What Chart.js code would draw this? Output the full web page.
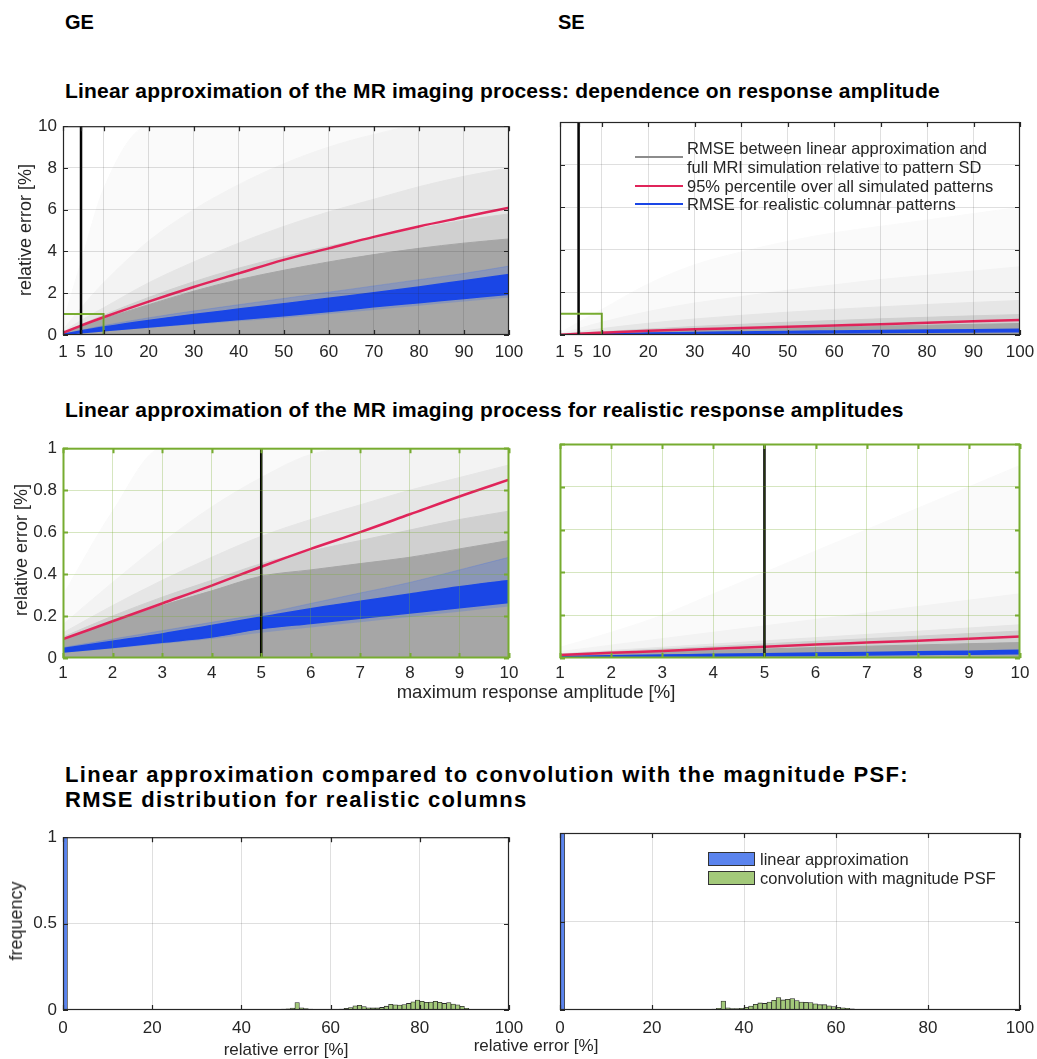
<!DOCTYPE html>
<html>
<head>
<meta charset="utf-8">
<script src="https://cdn.jsdelivr.net/npm/chart.js@4.4.1/dist/chart.umd.min.js"></script>
<style>
  body { margin: 0; background: #fff; }
  #page { position: relative; width: 1037px; height: 1059px; overflow: hidden;
          font-family: 'Liberation Sans', Arial, sans-serif; color: #262626; }
  canvas { position: absolute; }
  .t { position: absolute; white-space: nowrap; line-height: 1; z-index: 5; }
  .h { font-weight: bold; color: #000; }
  .c { transform: translate(-50%, -50%); }
  .r { transform: translate(-50%, -50%) rotate(-90deg); }
  .lg { position: absolute; z-index: 5; }
</style>
</head>
<body>
<div id="page">
  <canvas id="geTop"></canvas>
  <canvas id="seTop"></canvas>
  <canvas id="geMid"></canvas>
  <canvas id="seMid"></canvas>
  <canvas id="geHist"></canvas>
  <canvas id="seHist"></canvas>

  <div class="t h" style="left:65px;top:12px;font-size:20px">GE</div>
  <div class="t h" style="left:558px;top:12px;font-size:20px">SE</div>
  <div class="t h" style="left:65px;top:80px;font-size:21px;letter-spacing:0.2px">Linear approximation of the MR imaging process: dependence on response amplitude</div>
  <div class="t h" style="left:65px;top:399px;font-size:21px;letter-spacing:0.2px">Linear approximation of the MR imaging process for realistic response amplitudes</div>
  <div class="t h" style="left:65px;top:764px;font-size:22px;letter-spacing:1.3px">Linear approximation compared to convolution with the magnitude PSF:</div>
  <div class="t h" style="left:65px;top:789px;font-size:22px;letter-spacing:1.3px">RMSE distribution for realistic columns</div>

  <div class="t r" style="left:25px;top:230px;font-size:18px">relative error [%]</div>
  <div class="t r" style="left:21px;top:550px;font-size:18px">relative error [%]</div>
  <div class="t r" style="left:16px;top:921px;font-size:18px">frequency</div>
  <div class="t c" style="left:536px;top:692px;font-size:18.5px">maximum response amplitude [%]</div>
  <div class="t c" style="left:286px;top:1049px;font-size:17px">relative error [%]</div>
  <div class="t c" style="left:536px;top:1045px;font-size:17px">relative error [%]</div>

  <!-- legend, SE top panel -->
  <div class="lg" style="left:635px;top:156px;width:48px;height:2px;background:#8c8c8c"></div>
  <div class="t" style="left:687px;top:140px;font-size:16.5px">RMSE between linear approximation and</div>
  <div class="t" style="left:687px;top:159px;font-size:16.5px">full MRI simulation relative to pattern SD</div>
  <div class="lg" style="left:635px;top:185px;width:48px;height:2px;background:#e0245a"></div>
  <div class="t" style="left:687px;top:178px;font-size:16.5px">95% percentile over all simulated patterns</div>
  <div class="lg" style="left:635px;top:203px;width:48px;height:2px;background:#1a46e6"></div>
  <div class="t" style="left:687px;top:196px;font-size:16.5px">RMSE for realistic columnar patterns</div>

  <!-- legend, SE histogram -->
  <div class="lg" style="left:708px;top:852px;width:45px;height:12px;background:#5b84ee;border:1px solid #333"></div>
  <div class="t" style="left:760px;top:851px;font-size:16.5px">linear approximation</div>
  <div class="lg" style="left:708px;top:871px;width:45px;height:12px;background:#a3c97a;border:1px solid #333"></div>
  <div class="t" style="left:760px;top:870px;font-size:16.5px">convolution with magnitude PSF</div>
</div>

<script>
// ---- data ----
const TOP_X = [1, 5, 10, 20, 30, 40, 50, 60, 70, 80, 90, 100];
const TOP_X_TICKS = [1, 5, 10, 20, 30, 40, 50, 60, 70, 80, 90, 100];
const TOP_Y_TICKS = [0, 2, 4, 6, 8, 10];

const geTopFaint = [0.6, 3.5, 7, 10, 10, 10, 10, 10, 10, 10, 10, 10];
const geTopLight = [0.25, 1.3, 2.5, 4.5, 6, 7.2, 8.2, 9, 9.6, 10, 10, 10];
const geTopMid = [0.14, 0.7, 1.3, 2.5, 3.5, 4.4, 5.2, 5.9, 6.5, 7.1, 7.6, 8.0];
const geTopDark = [0.1, 0.5, 0.95, 1.8, 2.55, 3.2, 3.75, 4.25, 4.7, 5.1, 5.5, 5.8];
const geTopDense = [0.08, 0.42, 0.78, 1.45, 2.1, 2.65, 3.1, 3.5, 3.85, 4.15, 4.4, 4.6];
const geTopBlueOuterLo = [0.02, 0.09, 0.17, 0.33, 0.5, 0.66, 0.82, 1.0, 1.2, 1.4, 1.6, 1.8];
const geTopBlueOuterHi = [0.05, 0.23, 0.45, 0.82, 1.15, 1.45, 1.75, 2.05, 2.35, 2.65, 2.95, 3.3];
const geTopBlueLo = [0.025, 0.11, 0.2, 0.38, 0.56, 0.74, 0.92, 1.12, 1.35, 1.55, 1.75, 1.95];
const geTopBlueHi = [0.04, 0.19, 0.38, 0.7, 0.98, 1.24, 1.5, 1.76, 2.02, 2.3, 2.6, 2.9];
const geTopRed = [0.1, 0.45, 0.85, 1.6, 2.3, 2.95, 3.6, 4.15, 4.7, 5.2, 5.65, 6.1];

const seTopFaint = [0.1, 0.6, 1.2, 2.4, 3.3, 3.9, 4.4, 4.8, 5.1, 5.4, 5.7, 6.0];
const seTopLight = [0.05, 0.3, 0.6, 1.1, 1.5, 1.8, 2.1, 2.35, 2.6, 2.8, 3.0, 3.2];
const seTopMid = [0.03, 0.15, 0.3, 0.55, 0.75, 0.92, 1.07, 1.2, 1.32, 1.43, 1.53, 1.62];
const seTopDark = [0.02, 0.08, 0.15, 0.28, 0.4, 0.5, 0.6, 0.68, 0.76, 0.83, 0.9, 0.96];
const seTopDense = [0.01, 0.05, 0.09, 0.16, 0.22, 0.28, 0.33, 0.38, 0.42, 0.46, 0.5, 0.54];
const seTopBlueLo = [0.002, 0.01, 0.02, 0.04, 0.06, 0.075, 0.09, 0.105, 0.12, 0.13, 0.14, 0.15];
const seTopBlueHi = [0.006, 0.03, 0.055, 0.09, 0.12, 0.145, 0.17, 0.19, 0.21, 0.23, 0.25, 0.27];
const seTopRed = [0.01, 0.06, 0.11, 0.2, 0.27, 0.33, 0.39, 0.45, 0.51, 0.58, 0.64, 0.7];

const MID_X = [1, 2, 3, 4, 5, 6, 7, 8, 9, 10];
const MID_X_TICKS = [1, 2, 3, 4, 5, 6, 7, 8, 9, 10];
const MID_Y_TICKS = [0, 0.2, 0.4, 0.6, 0.8, 1];

const geMidFaint = [0.3, 0.7, 1, 1, 1, 1, 1, 1, 1, 1];
const geMidLight = [0.16, 0.36, 0.55, 0.72, 0.86, 0.97, 1, 1, 1, 1];
const geMidMid = [0.12, 0.25, 0.37, 0.48, 0.58, 0.66, 0.73, 0.8, 0.86, 0.92];
const geMidDark = [0.1, 0.2, 0.29, 0.37, 0.45, 0.51, 0.56, 0.61, 0.66, 0.7];
const geMidDense = [0.09, 0.17, 0.25, 0.32, 0.39, 0.42, 0.45, 0.48, 0.52, 0.56];
const geMidBlueOuterLo = [0.025, 0.045, 0.068, 0.09, 0.12, 0.145, 0.17, 0.195, 0.22, 0.245];
const geMidBlueOuterHi = [0.05, 0.09, 0.13, 0.17, 0.21, 0.26, 0.31, 0.36, 0.42, 0.48];
const geMidBlueLo = [0.028, 0.05, 0.075, 0.1, 0.14, 0.165, 0.19, 0.215, 0.24, 0.265];
const geMidBlueHi = [0.045, 0.08, 0.115, 0.155, 0.195, 0.235, 0.27, 0.305, 0.34, 0.37];
const geMidRed = [0.09, 0.175, 0.26, 0.345, 0.435, 0.52, 0.6, 0.685, 0.77, 0.85];

const seMidFaint = [0.05, 0.12, 0.2, 0.3, 0.4, 0.5, 0.6, 0.7, 0.8, 0.9];
const seMidLight = [0.03, 0.06, 0.09, 0.12, 0.15, 0.18, 0.21, 0.24, 0.27, 0.3];
const seMidMid = [0.02, 0.035, 0.05, 0.065, 0.08, 0.095, 0.11, 0.125, 0.14, 0.155];
const seMidDark = [0.018, 0.03, 0.042, 0.054, 0.066, 0.078, 0.09, 0.102, 0.114, 0.126];
const seMidDense = [0.012, 0.02, 0.028, 0.035, 0.042, 0.049, 0.055, 0.061, 0.067, 0.072];
const seMidBlueLo = [0.002, 0.004, 0.006, 0.008, 0.01, 0.012, 0.014, 0.016, 0.018, 0.02];
const seMidBlueHi = [0.007, 0.011, 0.014, 0.017, 0.02, 0.023, 0.026, 0.029, 0.032, 0.036];
const seMidRed = [0.014, 0.024, 0.033, 0.043, 0.053, 0.063, 0.072, 0.081, 0.09, 0.1];

const MARK_X = 5;              // black vertical line
const ZOOM_BOX_X = [1, 10];    // green box in the top panels
const ZOOM_BOX_Y = [0, 1];

const HIST_X_TICKS = [0, 20, 40, 60, 80, 100];
const HIST_Y_TICKS = [0, 0.5, 1];
const linBins = [0];
const linFreq = [1];
const geConvBins = [45, 46, 47, 48, 49, 50, 51, 52, 53, 54, 55, 56, 57, 58, 59, 60, 61, 62, 63, 64, 65, 66, 67, 68,
  69, 70, 71, 72, 73, 74, 75, 76, 77, 78, 79, 80, 81, 82, 83, 84, 85, 86, 87, 88, 89, 90, 91];
const geConvFreq = [0.002, 0.002, 0.003, 0.004, 0.005, 0.007, 0.011, 0.043, 0.013, 0.008, 0.006, 0.004, 0.003, 0.003,
  0.003, 0.003, 0.004, 0.006, 0.009, 0.014, 0.024, 0.027, 0.02, 0.013, 0.012, 0.012, 0.015, 0.022, 0.033, 0.03, 0.029,
  0.032, 0.038, 0.047, 0.058, 0.05, 0.045, 0.046, 0.05, 0.045, 0.038, 0.043, 0.034, 0.03, 0.021, 0.01, 0.003];
const seConvBins = [30, 31, 32, 33, 34, 35, 36, 37, 38, 39, 40, 41, 42, 43, 44, 45, 46, 47, 48, 49, 50, 51, 52, 53,
  54, 55, 56, 57, 58, 59, 60, 61, 62, 63, 64, 65, 66];
const seConvFreq = [0.001, 0.002, 0.003, 0.005, 0.01, 0.05, 0.012, 0.008, 0.008, 0.01, 0.015, 0.022, 0.032, 0.04,
  0.037, 0.045, 0.055, 0.07, 0.057, 0.06, 0.065, 0.053, 0.045, 0.043, 0.042, 0.035, 0.03, 0.03, 0.024, 0.02, 0.015,
  0.012, 0.009, 0.006, 0.003, 0.002, 0.001];

// ---- styling ----
const GRAYS = ['#fafafa', '#f3f3f3', '#e6e6e6', '#d0d0d0', '#a6a6a6'];
const RED = '#e0245a';
const BLUE = '#1a46e6';
const GREEN = '#77ac30';
const AXIS = '#262626';

Chart.defaults.font.family = "'Liberation Sans', Arial, sans-serif";
Chart.defaults.font.size = 17;
Chart.defaults.color = AXIS;

// plot areas on the page
const BOXES = {
  geTop: { L: 63, R: 509, T: 122, B: 335 },
  seTop: { L: 560, R: 1020, T: 122, B: 335 },
  geMid: { L: 63, R: 509, T: 444, B: 658 },
  seMid: { L: 560, R: 1020, T: 444, B: 658 },
  geHist: { L: 63, R: 509, T: 833, B: 1010 },
  seHist: { L: 560, R: 1020, T: 833, B: 1010 }
};
const YW = 50, XH = 34, PAD_T = 12, PAD_R = 24;

// box around the axes with inward ticks on all four sides (MATLAB look)
const boxPlugin = {
  id: 'box',
  afterDraw(chart, args, opts) {
    const { ctx, chartArea: a } = chart;
    const x = chart.scales.x, y = chart.scales.y;
    const t = 5;
    ctx.save();
    ctx.strokeStyle = opts.color;
    ctx.lineWidth = opts.width;
    ctx.beginPath();
    x.ticks.forEach(tk => {
      const px = Math.round(x.getPixelForValue(tk.value)) + 0.5;
      ctx.moveTo(px, a.bottom); ctx.lineTo(px, a.bottom - t);
      ctx.moveTo(px, a.top); ctx.lineTo(px, a.top + t);
    });
    y.ticks.forEach(tk => {
      const py = Math.round(y.getPixelForValue(tk.value)) + 0.5;
      ctx.moveTo(a.left, py); ctx.lineTo(a.left + t, py);
      ctx.moveTo(a.right, py); ctx.lineTo(a.right - t, py);
    });
    ctx.stroke();
    ctx.strokeRect(a.left + 0.5, a.top + 0.5, a.width - 1, a.height - 1);
    ctx.restore();
  }
};

function place(id) {
  const b = BOXES[id];
  const cv = document.getElementById(id);
  cv.width = (b.R - b.L) + YW + PAD_R;
  cv.height = (b.B - b.T) + PAD_T + XH;
  cv.style.left = (b.L - YW) + 'px';
  cv.style.top = (b.T - PAD_T) + 'px';
  return cv.getContext('2d');
}

function pts(xs, ys) { return xs.map((x, i) => ({ x: x, y: ys[i] })); }

function area(xs, ys, color, order, fill) {
  return { data: pts(xs, ys), backgroundColor: color, borderColor: color, borderWidth: 1,
    fill: fill === undefined ? 'origin' : fill, pointRadius: 0, cubicInterpolationMode: 'monotone', order: order };
}
function stroke(data, color, width, order, smooth) {
  return { data: data, borderColor: color, borderWidth: width, fill: false, pointRadius: 0,
    cubicInterpolationMode: smooth ? 'monotone' : 'default', tension: 0, order: order };
}

function axis(min, max, vals, o) {
  return {
    type: 'linear', min: min, max: max, offset: false,
    afterBuildTicks: a => { a.ticks = vals.map(v => ({ value: v })); },
    grid: { color: c => (c.tick && (c.tick.value === min || c.tick.value === max)) ? 'rgba(0,0,0,0)' : o.grid,
      drawTicks: false, lineWidth: 1, offset: false, z: 1 },
    border: { display: false },
    ticks: { display: o.labels, padding: o.pad, autoSkip: false, maxRotation: 0, color: AXIS,
      callback: v => String(v) },
    afterFit: o.fit
  };
}
const fitY = s => { s.width = YW; };
const fitX = s => { s.height = XH; };

function lineChart(id, p) {
  const xs = p.xs;
  const ds = [
    area(xs, p.layers[0], GRAYS[0], 20),
    area(xs, p.layers[1], GRAYS[1], 19),
    area(xs, p.layers[2], GRAYS[2], 18),
    area(xs, p.layers[3], GRAYS[3], 17),
    area(xs, p.layers[4], GRAYS[4], 16)
  ];
  if (p.blueOuter) {
    ds.push(area(xs, p.blueOuter[0], 'rgba(0,0,0,0)', 15, false));
    ds.push(area(xs, p.blueOuter[1], 'rgba(70,110,230,0.28)', 15, '-1'));
  }
  ds.push(stroke(pts(xs, p.blue[0]), BLUE, 1.5, 14, true));
  const hi = area(xs, p.blue[1], BLUE, 14, '-1');
  hi.borderWidth = 1.5;
  ds.push(hi);
  ds.push(stroke(pts(xs, p.red), RED, 2.5, 3, true));
  ds.push(stroke([{ x: MARK_X, y: p.yMin }, { x: MARK_X, y: p.yMax }], '#000', 2.5, 2));
  if (p.zoomBox) {
    ds.push(stroke([
      { x: ZOOM_BOX_X[0], y: ZOOM_BOX_Y[0] }, { x: ZOOM_BOX_X[0], y: ZOOM_BOX_Y[1] },
      { x: ZOOM_BOX_X[1], y: ZOOM_BOX_Y[1] }, { x: ZOOM_BOX_X[1], y: ZOOM_BOX_Y[0] }
    ], GREEN, 2, 1));
  }
  new Chart(place(id), {
    type: 'line',
    data: { datasets: ds },
    options: {
      responsive: false, animation: false, devicePixelRatio: 1,
      layout: { padding: { top: PAD_T, right: PAD_R, left: 0, bottom: 0 } },
      plugins: { legend: { display: false }, tooltip: { enabled: false },
        box: { color: p.boxColor, width: p.boxWidth } },
      scales: {
        x: axis(p.xMin, p.xMax, p.xTicks, { grid: p.grid, labels: true, pad: p.xPad, fit: fitX }),
        y: axis(p.yMin, p.yMax, p.yTicks, { grid: p.grid, labels: p.showY, pad: 6, fit: fitY })
      }
    },
    plugins: [boxPlugin]
  });
}

function histChart(id, convBins, convFreq, showY) {
  const bar = (bins, freq, color) => ({
    type: 'bar', data: bins.map((b, i) => ({ x: b + 0.5, y: freq[i] })),
    backgroundColor: color, borderColor: '#2a2a2a', borderWidth: 0.8,
    grouped: false, barPercentage: 1, categoryPercentage: 1
  });
  new Chart(place(id), {
    type: 'bar',
    data: { datasets: [bar(linBins, linFreq, '#5b84ee'), bar(convBins, convFreq, '#a3c97a')] },
    options: {
      responsive: false, animation: false, devicePixelRatio: 1,
      layout: { padding: { top: PAD_T, right: PAD_R, left: 0, bottom: 0 } },
      plugins: { legend: { display: false }, tooltip: { enabled: false },
        box: { color: AXIS, width: 1.2 } },
      scales: {
        x: axis(0, 100, HIST_X_TICKS, { grid: 'rgba(38,38,38,0.15)', labels: true, pad: 8, fit: fitX }),
        y: axis(0, 1, HIST_Y_TICKS, { grid: 'rgba(38,38,38,0.15)', labels: showY, pad: 6, fit: fitY })
      }
    },
    plugins: [boxPlugin]
  });
}

const topCommon = { xs: TOP_X, xTicks: TOP_X_TICKS, yTicks: TOP_Y_TICKS, xMin: 1, xMax: 100, yMin: 0, yMax: 10,
  grid: 'rgba(38,38,38,0.15)', boxColor: AXIS, boxWidth: 1.2, xPad: 7, zoomBox: true };
const midCommon = { xs: MID_X, xTicks: MID_X_TICKS, yTicks: MID_Y_TICKS, xMin: 1, xMax: 10, yMin: 0, yMax: 1,
  grid: 'rgba(119,172,48,0.3)', boxColor: GREEN, boxWidth: 2, xPad: 5, zoomBox: false };

lineChart('geTop', Object.assign({}, topCommon, {
  layers: [geTopFaint, geTopLight, geTopMid, geTopDark, geTopDense],
  blueOuter: [geTopBlueOuterLo, geTopBlueOuterHi], blue: [geTopBlueLo, geTopBlueHi], red: geTopRed, showY: true
}));
lineChart('seTop', Object.assign({}, topCommon, {
  layers: [seTopFaint, seTopLight, seTopMid, seTopDark, seTopDense],
  blueOuter: null, blue: [seTopBlueLo, seTopBlueHi], red: seTopRed, showY: false
}));
lineChart('geMid', Object.assign({}, midCommon, {
  layers: [geMidFaint, geMidLight, geMidMid, geMidDark, geMidDense],
  blueOuter: [geMidBlueOuterLo, geMidBlueOuterHi], blue: [geMidBlueLo, geMidBlueHi], red: geMidRed, showY: true
}));
lineChart('seMid', Object.assign({}, midCommon, {
  layers: [seMidFaint, seMidLight, seMidMid, seMidDark, seMidDense],
  blueOuter: null, blue: [seMidBlueLo, seMidBlueHi], red: seMidRed, showY: false
}));
histChart('geHist', geConvBins, geConvFreq, true);
histChart('seHist', seConvBins, seConvFreq, false);
</script>
</body>
</html>
